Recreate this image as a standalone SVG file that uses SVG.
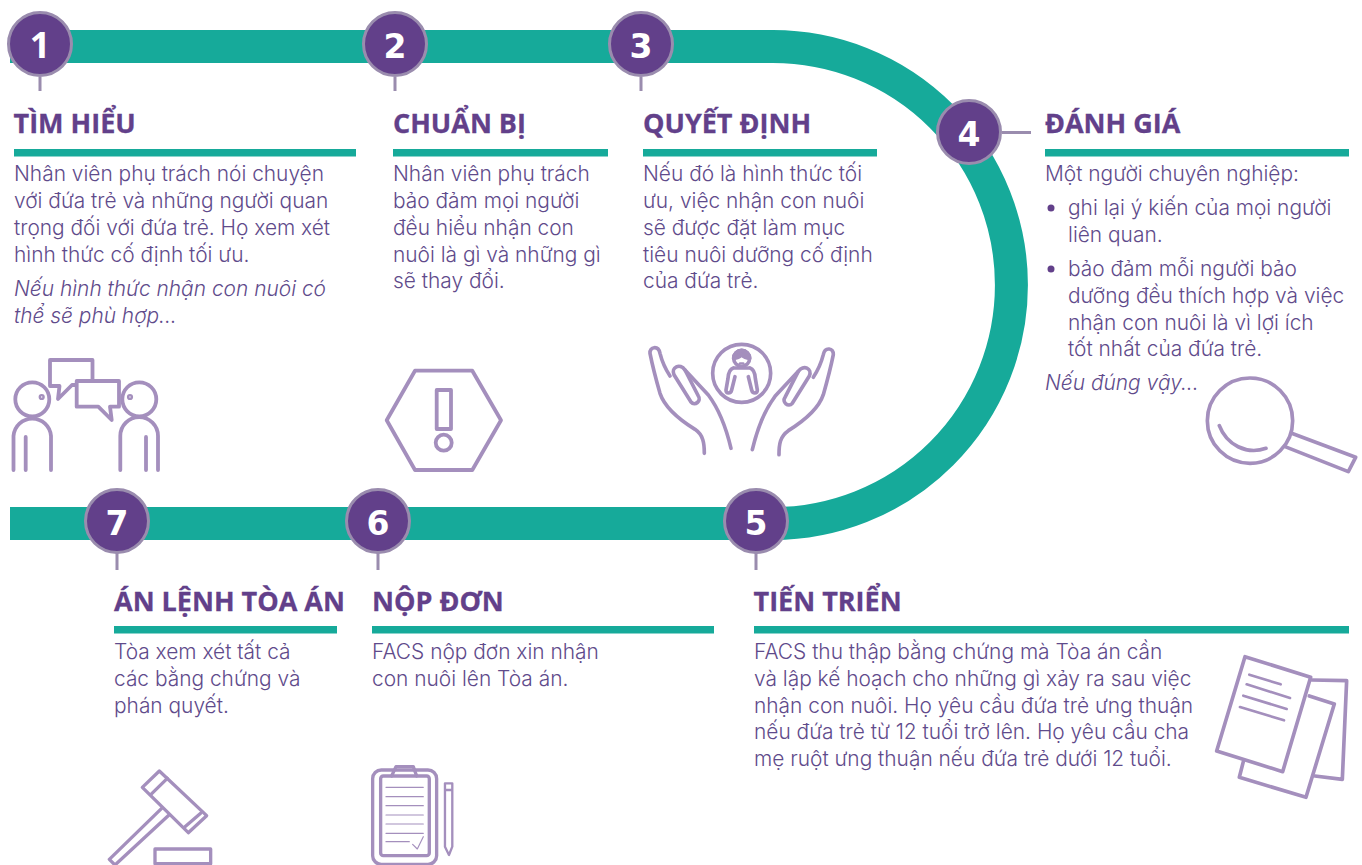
<svg xmlns="http://www.w3.org/2000/svg" width="1362" height="865" viewBox="0 0 1362 865">
<style>
.track{fill:none;stroke:#16aa9a;stroke-width:33}
.tick{fill:none;stroke:#9a8cae;stroke-width:3}
.disc{fill:#62408a;stroke:#9a8cae;stroke-width:3}
.num{font-family:"DejaVu Sans",sans-serif;font-weight:700;font-size:33px;fill:#fff;text-anchor:middle}
.head{font-family:"Open Sans","Noto Sans",sans-serif;font-weight:700;font-size:27px;fill:#62408a;stroke:#62408a;stroke-width:.3}
.bar{fill:#16aa9a}
.body{font-family:"Inter","Noto Sans",sans-serif;font-weight:300;font-size:20.9px;fill:#5f4b8b}
.it{font-style:italic}
.icon{fill:none;stroke:#a48fbd;stroke-width:3.8;stroke-linecap:round;stroke-linejoin:round}
</style>
<g id="connectors">
<path class="track" d="M10 46.500H773A238.500 238.500 0 0 1 773 523.500H10"/>
<path class="tick" d="M40 77V91M395 77V91M641 77V91M1002 132.500H1031M756 553V570M378 553V570M117 553V570"/>
</g>
<g id="node-1">
<circle class="disc" cx="40" cy="44" r="31.500"/><text class="num" x="40" y="58" style="font-family:'Noto Sans',sans-serif;font-size:36px">1</text>
<text class="head" x="13.500" y="133">TÌM HIỂU</text><rect class="bar" x="14" y="149" width="342" height="7.500"/>
<text class="body"><tspan x="14" y="181">Nhân viên phụ trách nói chuyện</tspan><tspan x="14" y="208">với đứa trẻ và những người quan</tspan><tspan x="14" y="235">trọng đối với đứa trẻ. Họ xem xét</tspan><tspan x="14" y="262">hình thức cố định tối ưu.</tspan></text>
<text class="body it"><tspan x="14" y="296">Nếu hình thức nhận con nuôi có</tspan><tspan x="14" y="323">thể sẽ phù hợp...</tspan></text>
<g class="icon">
<circle cx="32.300" cy="399.300" r="17"/><circle cx="41.700" cy="397" r="1.200"/>
<path d="M13.500 470V436A18.800 18.800 0 0 1 51 436V470M25.700 437V470"/>
<circle cx="139.300" cy="399.300" r="17"/><circle cx="130" cy="397" r="1.200"/>
<path d="M120.300 470V436A18.800 18.800 0 0 1 158 436V470M146 437V470"/>
<path d="M76 385H72L58 399L59.500 386H50V360H92.500V380"/>
<path d="M76.700 381H119V406.700H110L111.700 420L98.300 406.700H76.700Z"/>
</g>
</g>
<g id="node-2">
<circle class="disc" cx="395" cy="44" r="31.500"/><text class="num" x="395" y="57.500">2</text>
<text class="head" x="393" y="133">CHUẨN BỊ</text><rect class="bar" x="393" y="149" width="215" height="7.500"/>
<text class="body"><tspan x="393" y="181">Nhân viên phụ trách</tspan><tspan x="393" y="208">bảo đảm mọi người</tspan><tspan x="393" y="235">đều hiểu nhận con</tspan><tspan x="393" y="262">nuôi là gì và những gì</tspan><tspan x="393" y="288">sẽ thay đổi.</tspan></text>
<g class="icon">
<path d="M415 370.700H472.300L501 420.300L472.300 470H415L386.700 420.300Z"/>
<rect x="436.700" y="390" width="14.300" height="39"/><circle cx="443.700" cy="442.700" r="8"/>
</g>
</g>
<g id="node-3">
<circle class="disc" cx="641" cy="44" r="31.500"/><text class="num" x="641" y="57.500">3</text>
<text class="head" x="643" y="133">QUYẾT ĐỊNH</text><rect class="bar" x="643" y="149" width="234" height="7.500"/>
<text class="body"><tspan x="643" y="181">Nếu đó là hình thức tối</tspan><tspan x="643" y="208">ưu, việc nhận con nuôi</tspan><tspan x="643" y="235">sẽ được đặt làm mục</tspan><tspan x="643" y="262">tiêu nuôi dưỡng cố định</tspan><tspan x="643" y="288">của đứa trẻ.</tspan></text>
<g class="icon" transform="translate(700 340) scale(.3333)" style="stroke-width:11">
<circle cx="125" cy="100" r="87"/>
<circle cx="125" cy="55" r="24"/>
<path d="M101 55A24 24 0 0 1 149 55C140 55 130 50 125 44C120 50 110 55 101 55Z" fill="#a48fbd"/>
<path d="M120 70H130" style="stroke-width:7"/>
<path d="M100 84H150M100 84C88 88 85 100 84 115L78 150C78 162 92 162 95 150L105 110M150 84C162 88 165 100 166 115L172 150C172 162 158 162 155 150L145 110"/>
</g>
<g class="icon" transform="translate(640 340) scale(.3333)" style="stroke-width:11">
<g id="hand"><path d="M193 340C193 310 190 285 165 268C120 240 75 205 60 160C50 125 38 80 30 40C28 20 55 15 60 40C65 60 75 85 90 108"/>
<path d="M135 90L205 165C235 205 260 270 273 325"/>
<path d="M135 90C120 68 92 82 102 104L153 186C165 200 185 182 175 168L135 90Z"/></g>
<use href="#hand" transform="translate(610 4) scale(-1 1)"/>
</g>
</g>
<g id="node-4">
<circle class="disc" cx="969" cy="132" r="31.500"/><text class="num" x="969" y="145.500">4</text>
<text class="head" x="1045" y="133">ĐÁNH GIÁ</text><rect class="bar" x="1045" y="149" width="304" height="7.500"/>
<text class="body"><tspan x="1045" y="181">Một người chuyên nghiệp:</tspan><tspan x="1068" y="215">ghi lại ý kiến của mọi người</tspan><tspan x="1068" y="242">liên quan.</tspan><tspan x="1068" y="276">bảo đảm mỗi người bảo</tspan><tspan x="1068" y="303">dưỡng đều thích hợp và việc</tspan><tspan x="1068" y="330">nhận con nuôi là vì lợi ích</tspan><tspan x="1068" y="356">tốt nhất của đứa trẻ.</tspan></text>
<circle cx="1051" cy="208" r="3.500" fill="#62408a"/><circle cx="1051" cy="269" r="3.500" fill="#62408a"/>
<text class="body it" x="1045" y="390">Nếu đúng vậy...</text>
<g class="icon" transform="translate(1190 360) scale(.3333)" style="stroke-width:11">
<circle cx="180" cy="182" r="128"/><path d="M88 197C110 255 170 285 228 265M305 220L497 292L475 335L285 260"/>
</g>
</g>
<g id="node-5">
<circle class="disc" cx="756" cy="521" r="31.500"/><text class="num" x="756" y="534.500">5</text>
<text class="head" x="753.500" y="611">TIẾN TRIỂN</text><rect class="bar" x="754" y="626" width="595" height="7.500"/>
<text class="body"><tspan x="754" y="659">FACS thu thập bằng chứng mà Tòa án cần</tspan><tspan x="754" y="686">và lập kế hoạch cho những gì xảy ra sau việc</tspan><tspan x="754" y="713">nhận con nuôi. Họ yêu cầu đứa trẻ ưng thuận</tspan><tspan x="754" y="739">nếu đứa trẻ từ 12 tuổi trở lên. Họ yêu cầu cha</tspan><tspan x="754" y="766">mẹ ruột ưng thuận nếu đứa trẻ dưới 12 tuổi.</tspan></text>
<g class="icon" transform="translate(1200 640) scale(.3333)" style="stroke-width:11">
<path d="M135 50L332 112L248 395L50 333Z"/><path d="M148 104L242 133M140 133L270 174M130 167L260 207M120 201L252 241" style="stroke-width:8"/>
<path d="M328 168L403 192L318 472L118 412L130 365"/><path d="M335 120L440 122L427 418L345 408"/>
</g>
</g>
<g id="node-6">
<circle class="disc" cx="378" cy="521" r="31.500"/><text class="num" x="378" y="534.500">6</text>
<text class="head" x="372" y="611">NỘP ĐƠN</text><rect class="bar" x="372" y="626" width="342" height="7.500"/>
<text class="body"><tspan x="372" y="659">FACS nộp đơn xin nhận</tspan><tspan x="372" y="686">con nuôi lên Tòa án.</tspan></text>
<g class="icon" transform="translate(90 750) scale(.3333)" style="stroke-width:10">
<rect x="848" y="60" width="192" height="283" rx="26"/>
<rect x="872" y="78" width="146" height="239" rx="8"/>
<path d="M905 78L918 50H970L980 78"/>
<path style="stroke-width:3.500" d="M888 112H1000M888 140H1000M888 167H1000M888 195H1000M888 222H1000M888 250H1000M888 275H958M968 283L982 297L1000 260"/>
<path style="stroke-width:7" d="M1065 100H1087V290L1077 315L1065 290ZM1065 120H1087"/>
</g>
</g>
<g id="node-7">
<circle class="disc" cx="117" cy="521" r="31.500"/><text class="num" x="117" y="534.500">7</text>
<text class="head" x="114" y="611">ÁN LỆNH TÒA ÁN</text><rect class="bar" x="114" y="626" width="223" height="7.500"/>
<text class="body"><tspan x="114" y="659">Tòa xem xét tất cả</tspan><tspan x="114" y="686">các bằng chứng và</tspan><tspan x="114" y="713">phán quyết.</tspan></text>
<g class="icon" transform="translate(90 750) scale(.3333)" style="stroke-width:10">
<path d="M208 63L350 197L295 248L157 112Z"/><path d="M183 133L232 85M285 230L332 190"/>
<path d="M215 175L58 328L75 345L237 195"/><rect x="195" y="297" width="167" height="44"/>
</g>
</g>
</svg>
